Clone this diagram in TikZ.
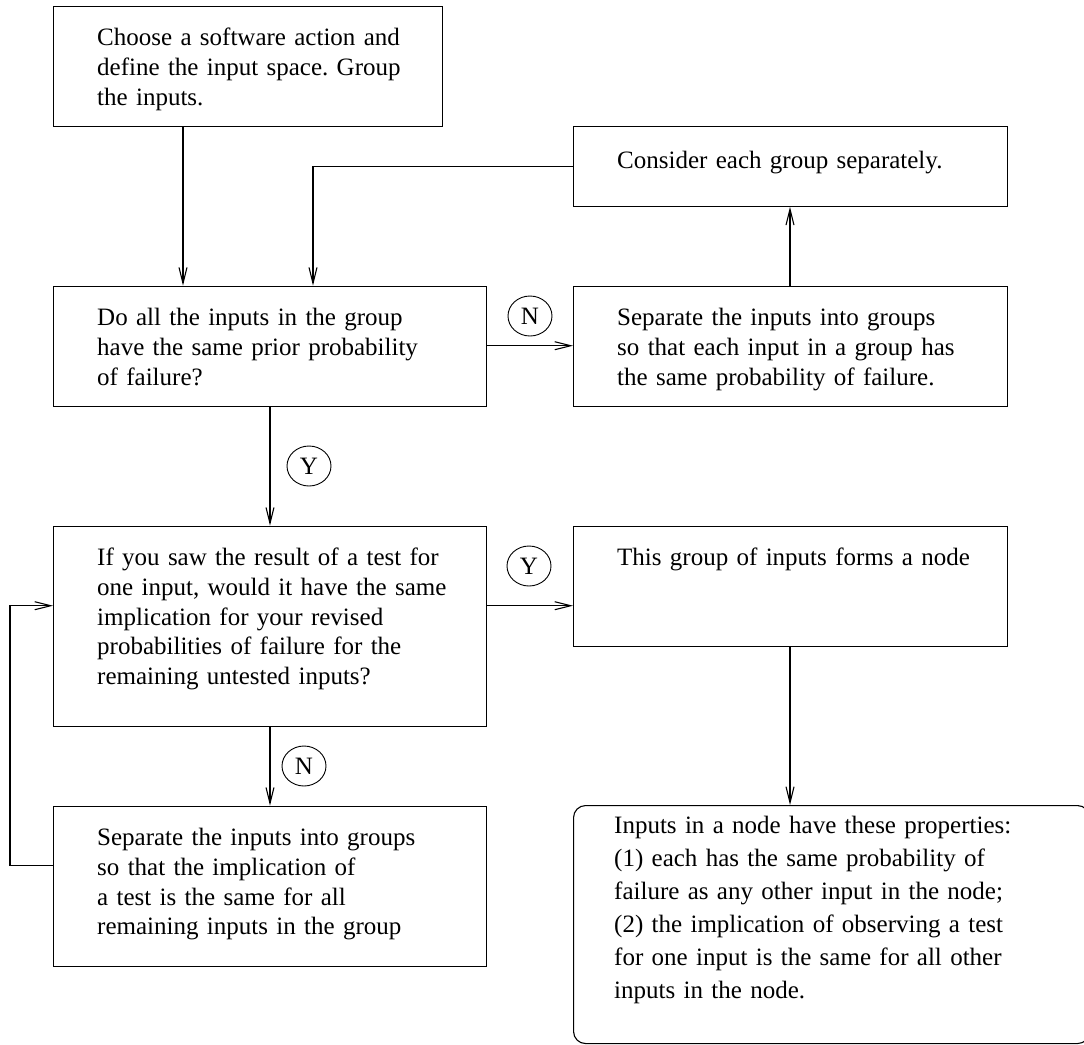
\documentclass[tikz,border=0pt]{standalone}
\usepackage{fontspec}
\setmainfont{Liberation Serif}
\usetikzlibrary{arrows.meta,shapes.geometric}
\frenchspacing
\begin{document}
\begin{tikzpicture}[x=1pt,y=-1pt,
  box/.style={draw, line width=1.1pt, rectangle, anchor=north west, inner sep=0pt},
  txt/.style={anchor=base west, inner sep=0pt, text width=440pt, align=left,
              font=\fontsize{25}{29.7}\selectfont},
  ptxt/.style={txt, font=\fontsize{25}{33}\selectfont},
  tag/.style={draw, ellipse, line width=0.9pt, minimum width=44pt, minimum height=40pt,
              inner sep=0pt, font=\fontsize{25}{30}\selectfont},
  arr/.style={draw, line width=1.1pt, -{Straight Barb[length=16pt,width=8pt,line width=1.1pt]}}
]
\useasboundingbox (0,0) rectangle (1084,1044);

% boxes
\node[box, minimum width=389pt, minimum height=120pt] (b1)    at (53,5.7) {};
\node[box, minimum width=434pt, minimum height=80pt]  (cons)  at (573,125.7) {};
\node[box, minimum width=433pt, minimum height=120pt] (doall) at (53,285.7) {};
\node[box, minimum width=434pt, minimum height=120pt] (sepN)  at (573,285.7) {};
\node[box, minimum width=433pt, minimum height=200pt] (ifsaw) at (53,525.7) {};
\node[box, minimum width=434pt, minimum height=120pt] (group) at (573,525.7) {};
\node[box, minimum width=433pt, minimum height=160pt] (sepB)  at (53,805.7) {};
\node[box, minimum width=516pt, minimum height=238pt, rounded corners=12pt] (props) at (573,805) {};

% texts
\node[txt] (t1) at (97,45.7) {Choose a software action and\\define the input space. Group\\the inputs.};
\node[txt] (t2) at (617,168) {Consider each group separately.};
\node[txt] (t3) at (97,325.7) {Do all the inputs in the group\\have the same prior probability\\of failure?};
\node[txt] (t4) at (617,325.7) {Separate the inputs into groups\\so that each input in a group has\\the same probability of failure.};
\node[txt] (t5) at (97,565.7) {If you saw the result of a test for\\one input, would it have the same\\implication for your revised\\probabilities of failure for the\\remaining untested inputs?};
\node[txt] (t6) at (617,565.7) {This group of inputs forms a node};
\node[txt] (t7) at (97,845.7) {Separate the inputs into groups\\so that the implication of\\a test is the same for all\\remaining inputs in the group};
\node[ptxt] (t8) at (614,833) {Inputs in a node have these properties:\\(1) each has the same probability of\\failure as any other input in the node;\\(2) the implication of observing a test\\for one input is the same for all other\\inputs in the node.};

% answer tags
\node[tag] (n1) at (530,316) {N};
\node[tag] (y1) at (309,466) {Y};
\node[tag] (y2) at (529,566) {Y};
\node[tag] (n2) at (304,766) {N};

% connectors
\draw[arr] ([xshift=130pt]b1.south west) -- ([xshift=130pt]doall.north west);
\draw[arr] (cons.west) -| ([xshift=260pt]doall.north west);
\draw[arr] ([xshift=217pt]sepN.north west) -- ([xshift=217pt]cons.south west);
\draw[arr] ([yshift=-60pt]doall.north east) -- ([yshift=-60pt]sepN.north west);
\draw[arr] ([xshift=217pt]doall.south west) -- ([xshift=217pt]ifsaw.north west);
\draw[arr] ([yshift=-80pt]ifsaw.north east) -- ([yshift=-80pt]group.north west);
\draw[arr] ([xshift=217pt]ifsaw.south west) -- ([xshift=217pt]sepB.north west);
\draw[arr] ([xshift=217pt]group.south west) -- ([xshift=217pt]props.north west);
\coordinate (loopx) at (10,865.7);
\draw[arr] ([yshift=-60pt]sepB.north west) -- (loopx) |- ([yshift=-80pt]ifsaw.north west);
\end{tikzpicture}
\end{document}
